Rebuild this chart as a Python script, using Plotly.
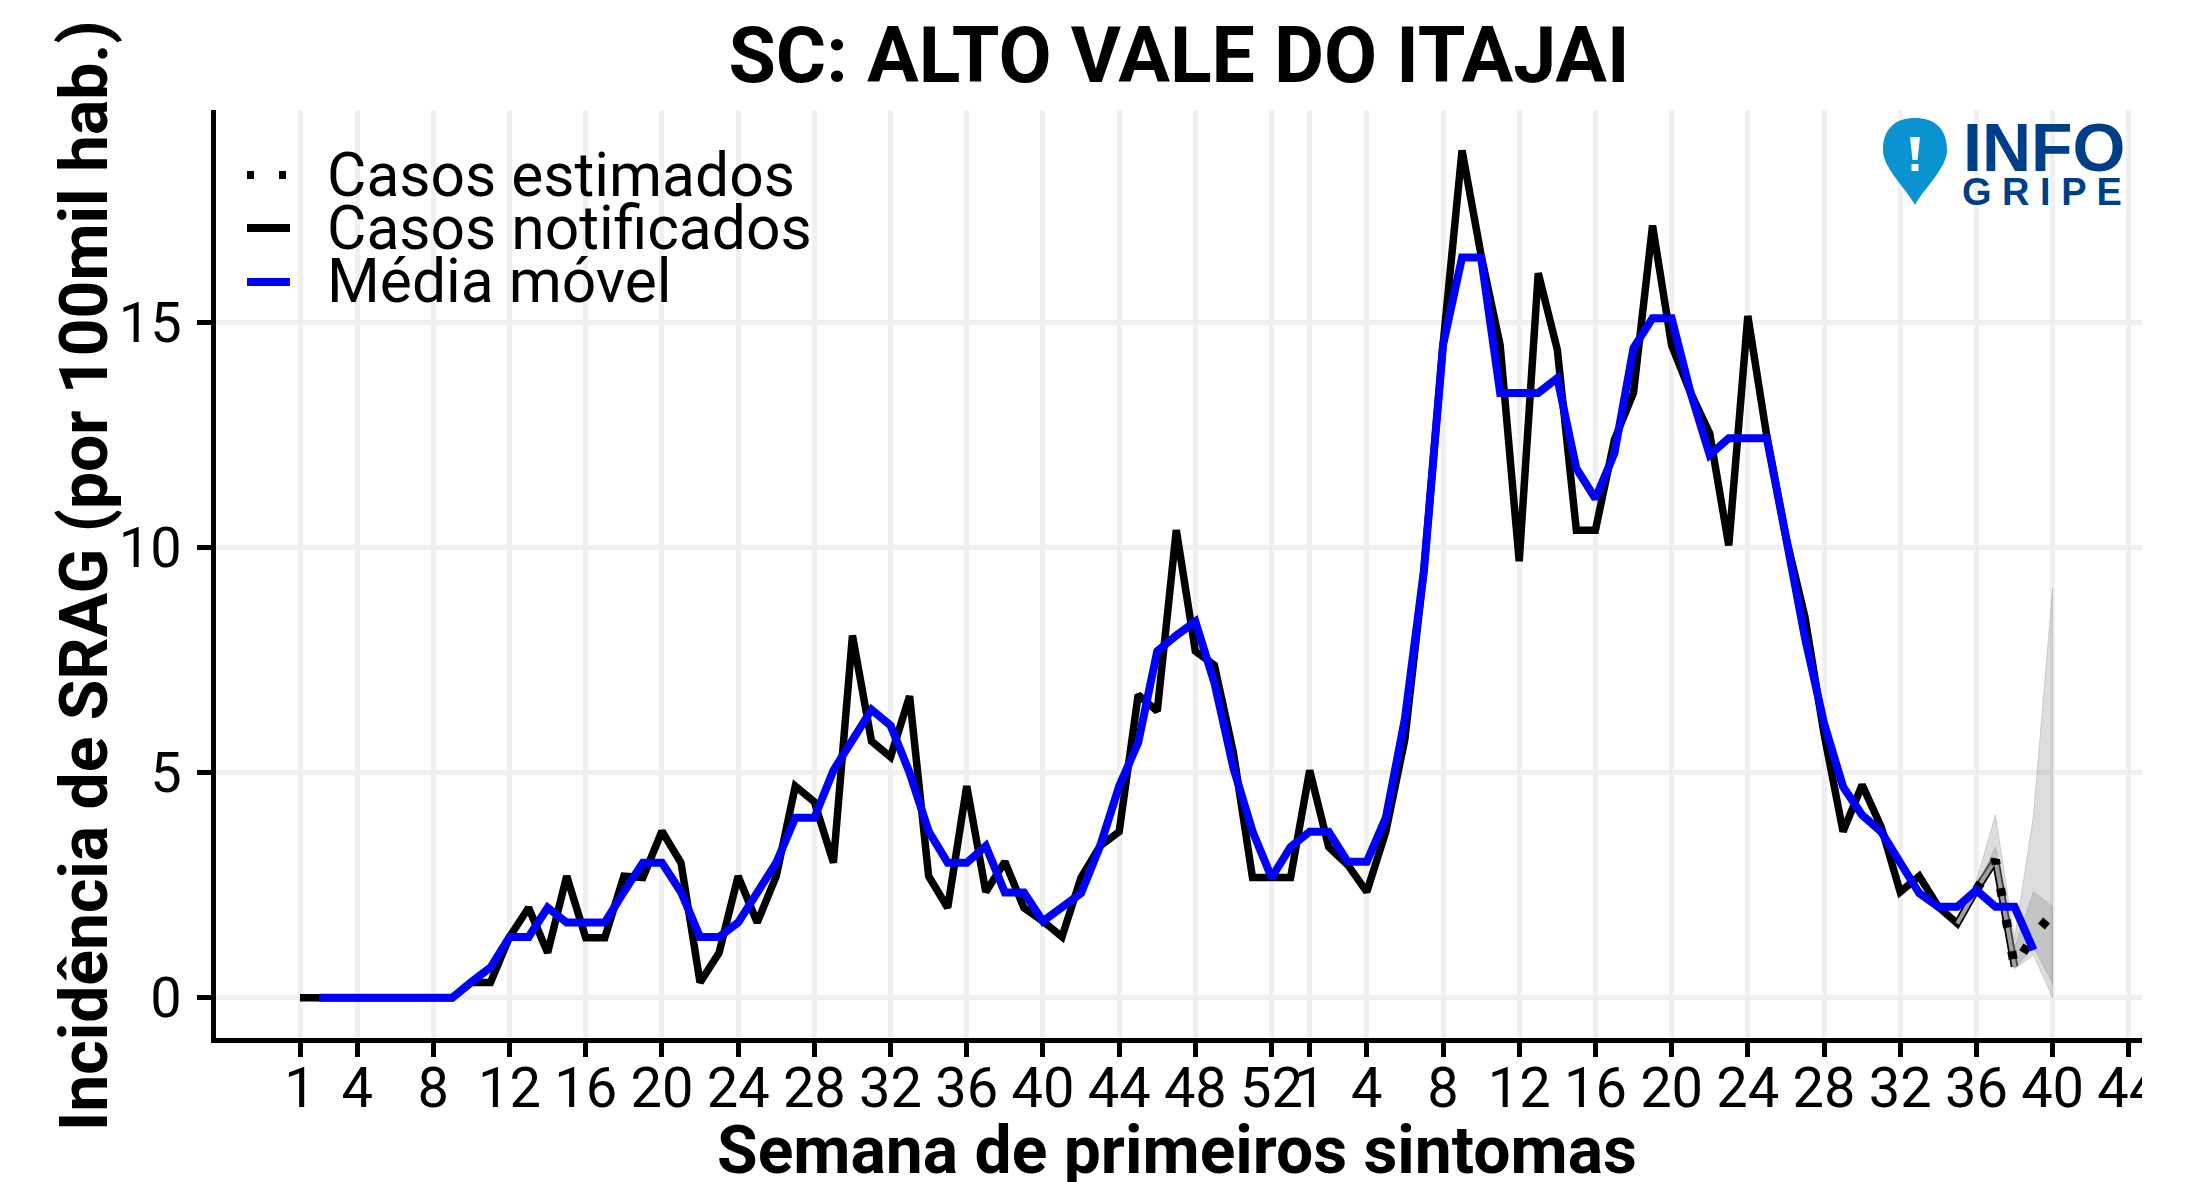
import plotly.graph_objects as go

W, H = 2194, 1182
L, R, T, B = 216, 2142, 110, 1038

# continuous week index (week 1 of 2020 = 1; 2020 has 53 weeks)
tick_index = [1, 4, 8, 12, 16, 20, 24, 28, 32, 36, 40, 44, 48, 52, 54, 57, 61, 65, 69, 73, 77, 81, 85, 89, 93, 97]
tick_labels = ["1", "4", "8", "12", "16", "20", "24", "28", "32", "36", "40", "44", "48", "52",
               "1", "4", "8", "12", "16", "20", "24", "28", "32", "36", "40", "44"]

notified = [0, 0, 0, 0, 0, 0, 0, 0, 0, 0.34, 0.34, 1.35, 2.0, 1.0, 2.7, 1.33, 1.33, 2.7, 2.67, 3.7,
            3.0, 0.34, 1.0, 2.7, 1.67, 2.7, 4.7, 4.35, 3.0, 8.05, 5.7, 5.35, 6.7, 2.7, 2.0, 4.7,
            2.35, 3.02, 2.0, 1.7, 1.35, 2.67, 3.37, 3.69, 6.73, 6.37, 10.39, 7.7, 7.39, 5.44, 2.67, 2.67,
            2.67, 5.05, 3.35, 2.95, 2.35, 3.69, 5.75, 9.5, 14.5, 18.83, 16.5, 14.5, 9.7, 16.1, 14.4, 10.39,
            10.39, 12.4, 13.44, 17.16, 14.5, 13.44, 12.54, 10.05, 15.15, 12.47, 10.24, 8.46, 5.87, 3.69,
            4.73, 3.8, 2.35, 2.7, 2.02, 1.65, 2.4, 3.06, 0.69]
notified_weeks = list(range(1, len(notified) + 1))

moving_avg = [0, 0, 0, 0, 0, 0, 0, 0, 0.35, 0.67, 1.35, 1.35, 2.0, 1.67, 1.67, 1.67, 2.35, 3.0, 3.0,
              2.35, 1.35, 1.35, 1.67, 2.35, 3.0, 4.0, 4.0, 5.05, 5.7, 6.4, 6.05, 5.0, 3.7, 3.0, 3.0,
              3.37, 2.34, 2.34, 1.7, 2.0, 2.32, 3.37, 4.7, 5.67, 7.7, 8.05, 8.36, 7.0, 5.1, 3.7, 2.67,
              3.35, 3.69, 3.69, 3.02, 3.02, 4.0, 6.2, 9.5, 14.5, 16.45, 16.45, 13.44, 13.44, 13.44, 13.77,
              11.76, 11.09, 12.1, 14.44, 15.1, 15.1, 13.44, 12.06, 12.43, 12.43, 12.43, 10.24, 8.0, 6.1,
              4.69, 4.06, 3.69, 3.0, 2.32, 2.02, 2.02, 2.39, 2.02, 2.02, 1.06]
moving_weeks = list(range(2, len(moving_avg) + 2))

est_weeks = [89, 90, 91, 92, 93]
estimated = [2.4, 3.06, 0.69, 1.38, 1.87]

band_weeks = [88, 89, 90, 91, 92, 93]
outer_upper = [1.65, 2.6, 4.06, 1.3, 4.06, 9.1]
outer_lower = [1.65, 2.3, 3.06, 0.65, 0.95, 0.0]
inner_upper = [1.65, 2.45, 3.35, 1.1, 2.36, 2.02]
inner_lower = [1.65, 2.35, 3.06, 0.65, 1.13, 0.32]
core_weeks = [88, 89, 90, 91]
core_values = [1.65, 2.4, 3.06, 0.69]

px = lambda v: (v - L) / (R - L)
py = lambda v: (B - v) / (B - T)

fig = go.Figure()
fig.add_trace(go.Scatter(x=notified_weeks, y=notified, mode="lines", line=dict(color="black", width=7.5), name="Casos notificados"))
for up, lo in ((outer_upper, outer_lower), (inner_upper, inner_lower)):
    fig.add_trace(go.Scatter(x=band_weeks + band_weeks[::-1], y=up + lo[::-1], mode="lines", fill="toself",
                             fillcolor="rgba(128,128,128,0.27)", line=dict(width=1, color="rgba(128,128,128,0.3)"),
                             hoverinfo="skip", name="IC"))
fig.add_trace(go.Scatter(x=core_weeks, y=core_values, mode="lines", line=dict(color="rgba(165,165,165,0.95)", width=4), hoverinfo="skip", name="IC"))
fig.add_trace(go.Scatter(x=est_weeks, y=estimated, mode="lines", line=dict(color="black", width=9, dash="8px,24px"), name="Casos estimados"))
fig.add_trace(go.Scatter(x=moving_weeks, y=moving_avg, mode="lines", line=dict(color="#0000ff", width=8), name="Média móvel"))

shapes = [dict(type="rect", xref="paper", yref="paper", x0=1.0, x1=1.03, y0=-0.16, y1=1.0, fillcolor="white", line_width=0, layer="above")]
for y, color, dash in ((175, "black", "7px,25px"), (228, "black", "solid"), (282, "#0000ff", "solid")):
    shapes.append(dict(type="line", xref="paper", yref="paper", x0=px(247), x1=px(290), y0=py(y), y1=py(y),
                       line=dict(color=color, width=8, dash=dash), layer="above"))
# logo pin
cx, top, rad, tip = 1915, 118, 32, 205
path = (f"M {px(cx-rad)} {py(top+rad)} C {px(cx-rad)} {py(top+9)} {px(cx-18)} {py(top)} {px(cx)} {py(top)} "
        f"C {px(cx+18)} {py(top)} {px(cx+rad)} {py(top+9)} {px(cx+rad)} {py(top+rad)} "
        f"C {px(cx+rad)} {py(top+50)} {px(cx+10)} {py(tip-18)} {px(cx)} {py(tip)} "
        f"C {px(cx-10)} {py(tip-18)} {px(cx-rad)} {py(top+50)} {px(cx-rad)} {py(top+rad)} Z")
shapes.append(dict(type="path", xref="paper", yref="paper", path=path, fillcolor="#0a93d1", line_width=0, layer="above"))
shapes.append(dict(type="path", xref="paper", yref="paper",
                   path=f"M {px(cx-5)} {py(137)} L {px(cx+5)} {py(137)} L {px(cx+2.5)} {py(160)} L {px(cx-2.5)} {py(160)} Z",
                   fillcolor="white", line_width=0, layer="above"))
shapes.append(dict(type="rect", xref="paper", yref="paper", x0=px(cx-3.5), x1=px(cx+3.5), y0=py(164), y1=py(171), fillcolor="white", line_width=0, layer="above"))

ann = []
for y, t in ((175, "Casos estimados"), (228, "Casos notificados"), (282, "Média móvel")):
    ann.append(dict(text=t, xref="paper", yref="paper", x=px(325), y=py(y), xanchor="left", yanchor="middle", showarrow=False,
                    font=dict(family="Roboto", size=60.5, color="black")))
ann.append(dict(text="<b>INFO</b>", xref="paper", yref="paper", x=px(2044), y=py(147), xanchor="center", yanchor="middle", showarrow=False,
                font=dict(family="Liberation Sans", size=68, color="#003f87")))
ann.append(dict(text="<b>G R I P E</b>", xref="paper", yref="paper", x=px(2042), y=py(192), xanchor="center", yanchor="middle", showarrow=False,
                font=dict(family="Liberation Sans", size=38, color="#003f87")))
ann.append(dict(text="<b>Semana de primeiros sintomas</b>", xref="paper", yref="paper", x=px(1177), y=py(1150), xanchor="center", yanchor="middle", showarrow=False,
                font=dict(family="Roboto", size=66, color="black")))
ann.append(dict(text="<b>Incidência de SRAG (por 100mil hab.)</b>", xref="paper", yref="paper", x=px(84), y=py(576), xanchor="center", yanchor="middle", showarrow=False, textangle=-90,
                font=dict(family="Roboto", size=66, color="black")))

fig.update_layout(
    width=W, height=H, autosize=False,
    margin=dict(l=L, r=W - R, t=T, b=H - B, pad=0),
    paper_bgcolor="white", plot_bgcolor="white",
    showlegend=False,
    title=dict(text="<b>SC: ALTO VALE DO ITAJAI</b>", x=0.5, xref="paper", xanchor="center", y=1 - 55 / H, yanchor="middle",
               font=dict(family="Roboto", size=77, color="black")),
    shapes=shapes, annotations=ann,
)
fig.update_xaxes(range=[(L - 300) / 19.05 + 1, (R - 300) / 19.05 + 1], tickmode="array", tickvals=tick_index, ticktext=tick_labels,
                 showgrid=True, gridcolor="#f0f0f0", gridwidth=5, zeroline=False, automargin=False,
                 showline=True, linecolor="black", linewidth=5, ticks="outside", ticklen=14, tickwidth=5, tickcolor="black",
                 ticklabelstandoff=-17,
                 tickfont=dict(family="Roboto", size=56, color="black"), tickangle=0)
fig.update_yaxes(range=[(997.7 - B) / 45, (997.7 - T) / 45], tickmode="array", tickvals=[0, 5, 10, 15], ticktext=["0", "5", "10", "15"],
                 showgrid=True, gridcolor="#f0f0f0", gridwidth=5, zeroline=False, automargin=False,
                 showline=True, linecolor="black", linewidth=5, ticks="outside", ticklen=14, tickwidth=5, tickcolor="black",
                 ticklabelstandoff=4,
                 tickfont=dict(family="Roboto", size=56, color="black"))
fig.write_html("out.html", config=dict(displayModeBar=False), post_script="document.body.style.margin='0';document.body.style.overflow='hidden';")
